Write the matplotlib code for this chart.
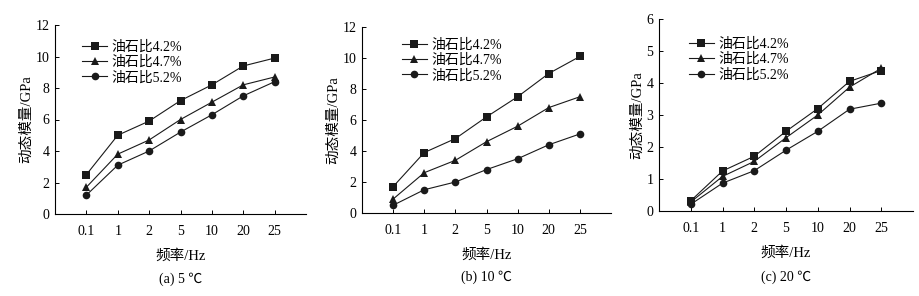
import matplotlib
matplotlib.use('Agg')
import matplotlib.pyplot as plt

plt.rcParams['font.family'] = ['Liberation Serif', 'Noto Sans CJK SC']

# dados
freqs = ['0.1', '1', '2', '5', '10', '20', '25']
series_names = ['油石比4.2%', '油石比4.7%', '油石比5.2%']

e_5c_42 = [2.5, 5.0, 5.9, 7.2, 8.2, 9.4, 9.9]
e_5c_47 = [1.7, 3.8, 4.7, 6.0, 7.1, 8.2, 8.7]
e_5c_52 = [1.2, 3.1, 4.0, 5.2, 6.3, 7.5, 8.4]

e_10c_42 = [1.7, 3.9, 4.8, 6.2, 7.5, 9.0, 10.1]
e_10c_47 = [0.9, 2.6, 3.4, 4.6, 5.6, 6.8, 7.5]
e_10c_52 = [0.5, 1.5, 2.0, 2.8, 3.5, 4.4, 5.1]

e_20c_42 = [0.32, 1.25, 1.71, 2.49, 3.2, 4.05, 4.39]
e_20c_47 = [0.28, 1.08, 1.55, 2.29, 3.0, 3.87, 4.46]
e_20c_52 = [0.21, 0.87, 1.26, 1.9, 2.49, 3.18, 3.37]

captions = ['(a) 5 ℃', '(b) 10 ℃', '(c) 20 ℃']
ylims = [12, 12, 6]
ysteps = [2, 2, 1]
data = [
    [e_5c_42, e_5c_47, e_5c_52],
    [e_10c_42, e_10c_47, e_10c_52],
    [e_20c_42, e_20c_47, e_20c_52],
]
markers = ['s', '^', 'o']

fig = plt.figure(figsize=(9.19, 2.96), dpi=100)
W, H = 919, 296
# posições dos eixos em pixels (esquerda, direita, topo, zero)
boxes = [(55, 306, 25, 214), (362, 611, 27, 213), (659, 913, 19, 211)]
leg_pos = [(0.108, 0.92), (0.16, 0.94), (0.118, 0.905)]

for i, ax_box in enumerate(boxes):
    l, r, t, b = ax_box
    ax = fig.add_axes([l / W, 1 - b / H, (r - l) / W, (b - t) / H])
    x = list(range(len(freqs)))
    for vals, m, name in zip(data[i], markers, series_names):
        ax.plot(x, vals, color='#1a1a1a', lw=0.8, marker=m, ms=6 if m != 'o' else 5.5,
                markeredgewidth=0, label=name)
    ax.set_xlim(-1, 7)
    ax.set_ylim(0, ylims[i])
    ax.set_yticks(range(0, ylims[i] + 1, ysteps[i]))
    ax.set_xticks(x)
    ax.set_xticklabels(freqs)
    ax.spines['top'].set_visible(False)
    ax.spines['right'].set_visible(False)
    for s in ['left', 'bottom']:
        ax.spines[s].set_linewidth(0.8)
    ax.tick_params(direction='in', length=3, width=0.7, labelsize=10, pad=4)
    ax.tick_params(axis='x', pad=8)
    ax.set_xlabel('频率/Hz', fontsize=10.5, labelpad=8)
    ax.set_ylabel('动态模量/GPa', fontsize=10.5, labelpad=2)
    ax.legend(loc='upper left', bbox_to_anchor=leg_pos[i], frameon=False, fontsize=10,
              handlelength=1.8, handletextpad=0.3, labelspacing=0.15, borderpad=0,
              borderaxespad=0)
    ax.text(0.5, -0.31, captions[i], transform=ax.transAxes, ha='center', va='top', fontsize=10)

plt.savefig('out.png', dpi=100)
